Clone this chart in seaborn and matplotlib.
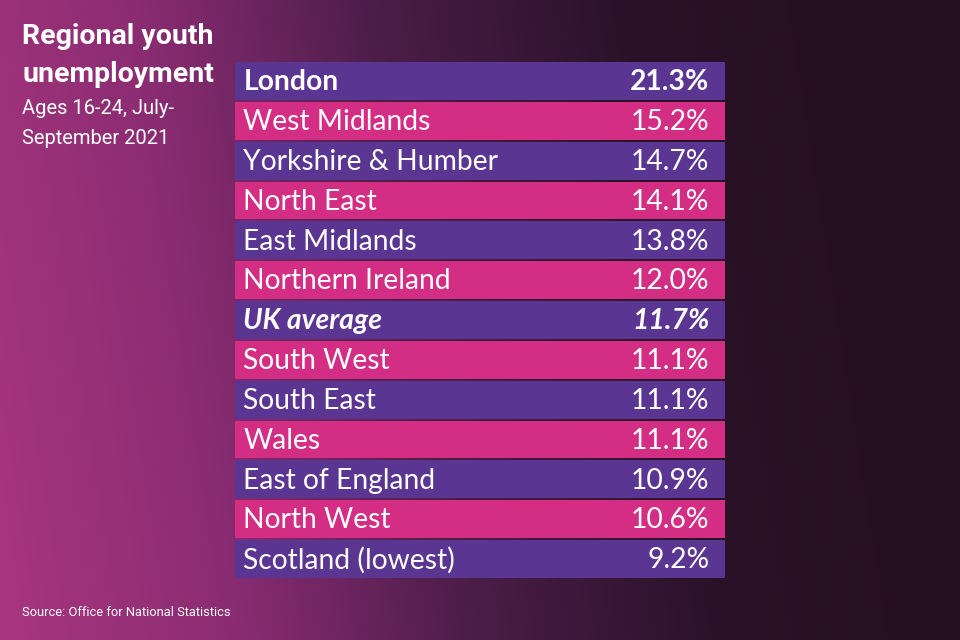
import numpy as np
import pandas as pd
import matplotlib
matplotlib.use("Agg")
import matplotlib.pyplot as plt
import seaborn as sns
from matplotlib.colors import LinearSegmentedColormap

regions = ["London", "West Midlands", "Yorkshire & Humber", "North East",
           "East Midlands", "Northern Ireland", "UK average", "South West",
           "South East", "Wales", "East of England", "North West",
           "Scotland (lowest)"]
rates = [21.3, 15.2, 14.7, 14.1, 13.8, 12.0, 11.7, 11.1, 11.1, 11.1, 10.9, 10.6, 9.2]
title_lines = ["Regional youth", "unemployment"]
subtitle_lines = ["Ages 16-24, July-", "September 2021"]
source = "Source: Office for National Statistics"

PURPLE = "#5b3592"
PINK = "#d42e84"

sns.set_theme(style="white")
plt.rcParams['font.family'] = ['Lato', 'DejaVu Sans']

fig = plt.figure(figsize=(9.6, 6.4), dpi=100)

# background (photo approximated by a tinted gradient)
bg = fig.add_axes([0, 0, 1, 1])
xx = np.linspace(0, 1, 400)
yy = np.linspace(0, 1, 300)
X, Y = np.meshgrid(xx, yy)
Z = np.clip(0.1 + 0.95 * X + 0.1 * (Y - 0.5), 0, 1)
cmap = LinearSegmentedColormap.from_list(
    "bgc", ["#a8367f", "#8a2c72", "#4a1d48", "#2b1229", "#241020"])
bg.imshow(Z, cmap=cmap, aspect="auto", extent=[0, 1, 0, 1], origin="lower")
bg.set_axis_off()

tfam = ['Roboto', 'DejaVu Sans']
fig.text(22/960, 1 - 36/640, title_lines[0], fontsize=20.5, fontweight="bold",
         color="white", family=tfam, va="center")
fig.text(22/960, 1 - 75/640, title_lines[1], fontsize=20.5, fontweight="bold",
         color="white", family=tfam, va="center")
fig.text(22/960, 1 - 108/640, subtitle_lines[0], fontsize=14.5, color="white",
         family=tfam, va="center")
fig.text(22/960, 1 - 138/640, subtitle_lines[1], fontsize=14.5, color="white",
         family=tfam, va="center")
fig.text(22/960, 1 - 612/640, source, fontsize=9.3, color="white",
         family=tfam, va="center")

# table rows
df = pd.DataFrame({
    "region": regions,
    "rate": rates,
    "span": [1.0] * len(regions),
    "band": ["a" if i % 2 == 0 else "b" for i in range(len(regions))],
})

ax = fig.add_axes([235/960, (640-579)/640, 490/960, 518/640])
sns.barplot(data=df, y="region", x="span", hue="band", palette={"a": PURPLE, "b": PINK},
            dodge=False, width=0.95, legend=False, ax=ax, saturation=1, orient="h",
            linewidth=0, edgecolor="none")
ax.set_xlim(0, 1)
ax.set_ylim(len(regions) - 0.5, -0.5)
ax.set_axis_off()

for i, (r, v) in enumerate(zip(df["region"], df["rate"])):
    weight = "bold" if r == "London" else "normal"
    style = "normal"
    if r == "UK average":
        weight, style = "bold", "italic"
    ax.text(0.017, i + 0.03, r, color="white", fontsize=20.3, fontweight=weight,
            fontstyle=style, va="center", ha="left")
    ax.text(0.968, i + 0.03, f"{v:.1f}%", color="white", fontsize=20.3,
            fontweight=weight, fontstyle=style, va="center", ha="right")

fig.savefig("out.png", dpi=100)
